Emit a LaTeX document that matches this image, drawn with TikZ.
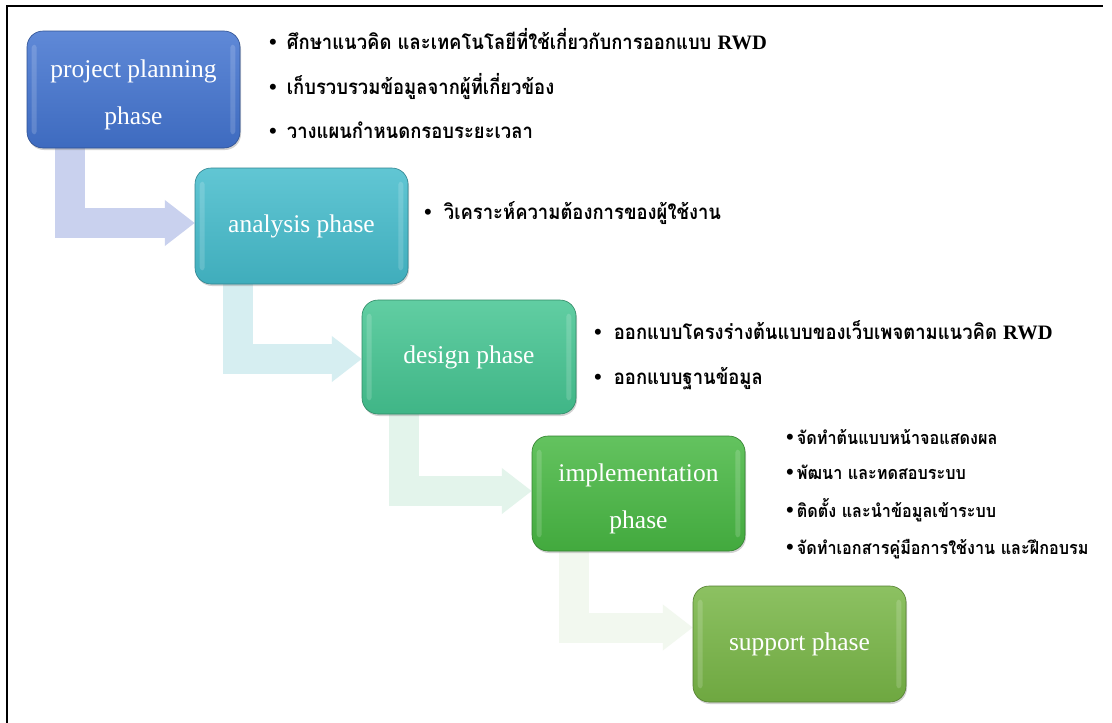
\documentclass[tikz,border=0pt]{standalone}
\usepackage{fontspec}
\setmainfont{Liberation Serif}
\newfontfamily\thaifont[Script=Thai, FakeStretch=0.9]{Loma}
\usetikzlibrary{arrows.meta,shadows}
\definecolor{pA}{HTML}{4374D0}
\definecolor{pB}{HTML}{45BCCC}
\definecolor{pC}{HTML}{45C592}
\definecolor{pD}{HTML}{48B843}
\definecolor{pE}{HTML}{78B646}
\definecolor{aA}{HTML}{C9D1EE}
\definecolor{aB}{HTML}{D6EEF1}
\definecolor{aC}{HTML}{E3F4EB}
\definecolor{aD}{HTML}{F2F8EF}
\begin{document}
\begin{tikzpicture}[x=1pt,y=-1pt,
  phase/.style={rounded corners=16pt, minimum width=213pt, minimum height=116pt,
    text=white, font=\fontsize{25.5}{47}\selectfont, align=center,
    draw=#1!70!black, line width=0.6pt,
    top color=#1!85!white, bottom color=#1!92!black,
    drop shadow={opacity=0.35,shadow xshift=1pt,shadow yshift=-2pt}},
  conn/.style={draw=#1, line width=30pt, line join=miter,
    -{Triangle[width=44pt,length=30pt,fill=#1,color=#1]}},
  item/.style={anchor=base west, inner sep=0pt,
    font=\thaifont\bfseries\fontsize{20.5}{24}\selectfont},
  itemsm/.style={anchor=base west, inner sep=0pt,
    font=\thaifont\bfseries\fontsize{18}{22}\selectfont},
  glint/.style={fill=white, opacity=0.16, rounded corners=3pt}
]
\newcommand{\blt}{{\rmfamily\fontsize{22}{22}\selectfont\textbullet}}
\newcommand{\lowerstrut}{\rule{0pt}{29pt}}
\useasboundingbox (0,0) rectangle (1112,723);
\fill[white] (0,0) rectangle (1112,723);
\draw[line width=2pt] (7,723) -- (7,6) -- (1103,6);

\path (133.5,89.5) coordinate (c1) (301.5,226) coordinate (c2) (469,357) coordinate (c3)
      (638.5,493.5) coordinate (c4) (799.5,644) coordinate (c5);

\node[minimum width=213pt, minimum height=117pt, inner sep=0pt] (p1) at (c1) {};
\node[minimum width=213pt, minimum height=116pt, inner sep=0pt] (p2) at (c2) {};
\node[minimum width=214pt, minimum height=114pt, inner sep=0pt] (p3) at (c3) {};
\node[minimum width=213pt, minimum height=115pt, inner sep=0pt] (p4) at (c4) {};
\node[minimum width=213pt, minimum height=116pt, inner sep=0pt] (p5) at (c5) {};

\draw[conn=aA] ([xshift=43pt,yshift=10pt]p1.south west) |- ([yshift=3pt]p2.west);
\draw[conn=aB] ([xshift=43pt,yshift=10pt]p2.south west) |- ([yshift=-2pt]p3.west);
\draw[conn=aC] ([xshift=42pt,yshift=10pt]p3.south west) |- ([yshift=2.5pt]p4.west);
\draw[conn=aD] ([xshift=42.5pt,yshift=10pt]p4.south west) |- ([yshift=16.5pt]p5.west);

\node[phase=pA, minimum height=117pt] (b1) at (c1) {\lowerstrut project planning\\phase};
\node[phase=pB] (b2) at (c2) {analysis phase};
\node[phase=pC, minimum width=214pt, minimum height=114pt] (b3) at (c3) {design phase};
\node[phase=pD, minimum height=115pt] (b4) at (c4) {\lowerstrut implementation\\phase};
\node[phase=pE] (b5) at (c5) {support phase};

\foreach \b in {b1,b2,b3,b4,b5}{
  \fill[glint] ([xshift=5pt,yshift=-14pt]\b.north west) rectangle ([xshift=10pt,yshift=14pt]\b.south west);
  \fill[glint] ([xshift=-10pt,yshift=-14pt]\b.north east) rectangle ([xshift=-5pt,yshift=14pt]\b.south east);
}

\node[item] (t11) at (269,49) {\blt\hspace{10pt}ศึกษาแนวคิด และเทคโนโลยีที่ใช้เกี่ยวกับการออกแบบ {\rmfamily\bfseries RWD}};
\node[item] (t12) at (269,94) {\blt\hspace{10pt}เก็บรวบรวมข้อมูลจากผู้ที่เกี่ยวข้อง};
\node[item] (t13) at (269,138) {\blt\hspace{10pt}วางแผนกำหนดกรอบระยะเวลา};

\node[item] (t21) at (424,219) {\blt\hspace{12pt}วิเคราะห์ความต้องการของผู้ใช้งาน};

\node[item] (t31) at (594,339) {\blt\hspace{12pt}ออกแบบโครงร่างต้นแบบของเว็บเพจตามแนวคิด {\rmfamily\bfseries RWD}};
\node[item] (t32) at (594,384) {\blt\hspace{12pt}ออกแบบฐานข้อมูล};

\node[itemsm] (t41) at (786,444) {\blt\hspace{3pt}จัดทำต้นแบบหน้าจอแสดงผล};
\node[itemsm] (t42) at (786,479) {\blt\hspace{3pt}พัฒนา และทดสอบระบบ};
\node[itemsm] (t43) at (786,517) {\blt\hspace{3pt}ติดตั้ง และนำข้อมูลเข้าระบบ};
\node[itemsm] (t44) at (786,554) {\blt\hspace{3pt}จัดทำเอกสารคู่มือการใช้งาน และฝึกอบรม};
\end{tikzpicture}
\end{document}
